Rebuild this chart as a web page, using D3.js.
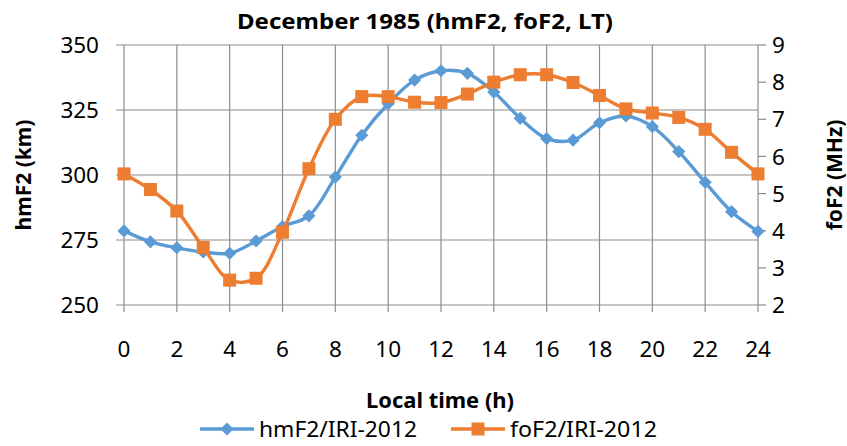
<!DOCTYPE html>
<html>
<head>
<meta charset="utf-8">
<script src="https://cdn.jsdelivr.net/npm/d3@7"></script>
<style>
  body { margin: 0; background: #fff; }
  text { font-family: "Noto Sans", "Open Sans", sans-serif; fill: #000; }
</style>
</head>
<body>
<div id="caja"></div>
<script>
// datos
var horas = d3.range(0, 25);
var hmF2 = [278.5, 274.3, 272.0, 270.4, 269.9, 274.6, 280.2, 284.3, 299.2, 315.3, 327.4, 336.5, 340.1,
            339.1, 331.9, 321.8, 314.0, 313.4, 320.1, 322.7, 318.6, 309.0, 297.2, 285.9, 278.3];
var foF2 = [5.53, 5.11, 4.53, 3.55, 2.67, 2.72, 3.96, 5.67, 7.0, 7.61, 7.61, 7.46, 7.45,
            7.68, 8.0, 8.2, 8.2, 7.99, 7.64, 7.28, 7.17, 7.05, 6.73, 6.11, 5.53];
var ticksX = d3.range(0, 25, 2);
var ticksIzq = [250, 275, 300, 325, 350];
var ticksDer = [2, 3, 4, 5, 6, 7, 8, 9];
var series = ["hmF2/IRI-2012", "foF2/IRI-2012"];

var w = 847, h = 446;
var colAzul = "#5B9BD5", colNaranja = "#ED7D31", colGrilla = "#8c8c8c";

var svg = d3.select("#caja").append("svg")
  .attr("width", w).attr("height", h);

var x = d3.scaleLinear().domain([0, 24]).range([124, 758]);
var yIzq = d3.scaleLinear().domain([250, 350]).range([305, 45]);
var yDer = d3.scaleLinear().domain([2, 9]).range([305, 45]);

// grilla
svg.append("g").selectAll("line").data(ticksIzq).enter().append("line")
  .attr("x1", 116).attr("x2", 758)
  .attr("y1", function(d) { return yIzq(d); })
  .attr("y2", function(d) { return yIzq(d); })
  .attr("stroke", colGrilla).attr("stroke-width", 1.2);

svg.append("g").selectAll("line").data(ticksX).enter().append("line")
  .attr("x1", function(d) { return x(d); })
  .attr("x2", function(d) { return x(d); })
  .attr("y1", 45).attr("y2", 312)
  .attr("stroke", colGrilla).attr("stroke-width", 1.2);

// eje derecho
svg.append("g").selectAll("line").data(ticksDer).enter().append("line")
  .attr("x1", 758).attr("x2", 766)
  .attr("y1", function(d) { return yDer(d); })
  .attr("y2", function(d) { return yDer(d); })
  .attr("stroke", colGrilla).attr("stroke-width", 1.2);

// etiquetas de ejes
svg.append("g").selectAll("text").data(ticksIzq).enter().append("text")
  .text(function(d) { return d; })
  .attr("x", 99).attr("y", function(d) { return yIzq(d); })
  .attr("dy", "0.36em").attr("text-anchor", "end")
  .attr("font-size", "22.5px");

svg.append("g").selectAll("text").data(ticksDer).enter().append("text")
  .text(function(d) { return d; })
  .attr("x", 772).attr("y", function(d) { return yDer(d); })
  .attr("dy", "0.36em")
  .attr("font-size", "22.5px");

svg.append("g").selectAll("text").data(ticksX).enter().append("text")
  .text(function(d) { return d; })
  .attr("x", function(d) { return x(d); }).attr("y", 357)
  .attr("text-anchor", "middle")
  .attr("font-size", "22.5px");

// titulos
svg.append("text").text("December 1985 (hmF2, foF2, LT)")
  .attr("x", 425).attr("y", 29).attr("text-anchor", "middle")
  .attr("font-size", "21px").attr("font-weight", "bold")
  .attr("textLength", 376).attr("lengthAdjust", "spacingAndGlyphs");

svg.append("text").text("Local time (h)")
  .attr("x", 440).attr("y", 408).attr("text-anchor", "middle")
  .attr("font-size", "21px").attr("font-weight", "bold")
  .attr("textLength", 148).attr("lengthAdjust", "spacingAndGlyphs");

svg.append("text").text("hmF2 (km)")
  .attr("transform", "translate(31,175) rotate(-90)")
  .attr("text-anchor", "middle")
  .attr("font-size", "21px").attr("font-weight", "bold");

svg.append("text").text("foF2 (MHz)")
  .attr("transform", "translate(842,175) rotate(-90)")
  .attr("text-anchor", "middle")
  .attr("font-size", "21px").attr("font-weight", "bold");

// lineas suavizadas
var lineaIzq = d3.line()
  .x(function(d, i) { return x(horas[i]); })
  .y(function(d) { return yIzq(d); })
  .curve(d3.curveCatmullRom.alpha(0.5));
var lineaDer = d3.line()
  .x(function(d, i) { return x(horas[i]); })
  .y(function(d) { return yDer(d); })
  .curve(d3.curveCatmullRom.alpha(0.5));

svg.append("path").datum(hmF2)
  .attr("d", lineaIzq).attr("fill", "none")
  .attr("stroke", colAzul).attr("stroke-width", 3.4);

svg.append("g").selectAll("path").data(hmF2).enter().append("path")
  .attr("d", d3.symbol().type(d3.symbolDiamond2).size(110))
  .attr("transform", function(d, i) { return "translate(" + x(horas[i]) + "," + yIzq(d) + ")"; })
  .attr("fill", colAzul);

svg.append("path").datum(foF2)
  .attr("d", lineaDer).attr("fill", "none")
  .attr("stroke", colNaranja).attr("stroke-width", 3.4);

svg.append("g").selectAll("rect").data(foF2).enter().append("rect")
  .attr("x", function(d, i) { return x(horas[i]) - 6.5; })
  .attr("y", function(d) { return yDer(d) - 6.5; })
  .attr("width", 13).attr("height", 13)
  .attr("fill", colNaranja);

// leyenda
var leyenda = svg.append("g");
var posLey = [200, 451];
var colores = [colAzul, colNaranja];
var largoTxt = [158, 147];
series.forEach(function(s, i) {
  var g = leyenda.append("g").attr("transform", "translate(" + posLey[i] + ",429)");
  g.append("line").attr("x1", 0).attr("x2", 54)
    .attr("stroke", colores[i]).attr("stroke-width", 3.4);
  if (i == 0) {
    g.append("path").attr("d", d3.symbol().type(d3.symbolDiamond2).size(110))
      .attr("transform", "translate(27,0)").attr("fill", colores[i]);
  } else {
    g.append("rect").attr("x", 20.5).attr("y", -6.5).attr("width", 13).attr("height", 13)
      .attr("fill", colores[i]);
  }
  g.append("text").text(s).attr("x", 59).attr("y", 0).attr("dy", "0.36em")
    .attr("font-size", "22px")
    .attr("textLength", largoTxt[i]).attr("lengthAdjust", "spacingAndGlyphs");
});
</script>
</body>
</html>
